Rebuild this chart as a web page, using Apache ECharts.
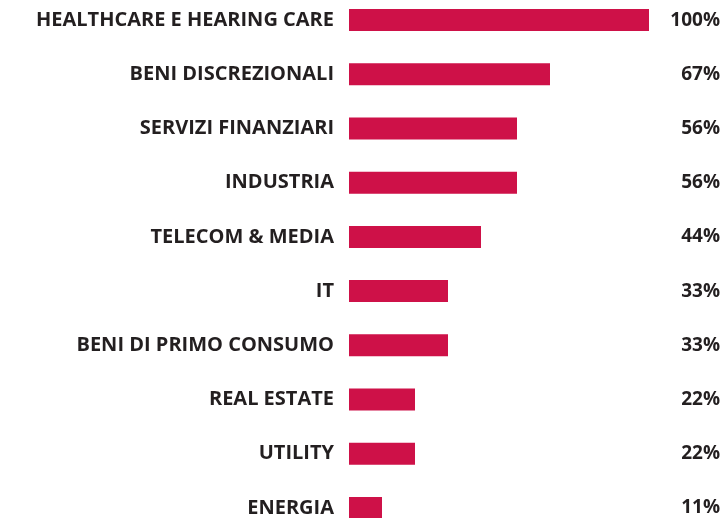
<!DOCTYPE html>
<html lang="it">
<head>
    <meta charset="UTF-8">
    <title>Settori</title>
    <style>html,body{margin:0;padding:0;background:#fff;overflow:hidden;}</style>
</head>
<body>
<div id="echart" style="width: 724px; height: 542px; margin-top: -7px;"></div>

<script src="https://cdn.jsdelivr.net/npm/echarts@6/dist/echarts.min.js"></script>
<script>
    // settori e percentuali
    var categories = [
        "HEALTHCARE E HEARING CARE",
        "BENI DISCREZIONALI",
        "SERVIZI FINANZIARI",
        "INDUSTRIA",
        "TELECOM & MEDIA",
        "IT",
        "BENI DI PRIMO CONSUMO",
        "REAL ESTATE",
        "UTILITY",
        "ENERGIA"
    ];
    var values = [100, 67, 56, 56, 44, 33, 33, 22, 22, 11];
    var valueLabels = values.map(function (v) { return v + '%'; });

    var myChart = echarts.init(document.getElementById("echart"));
    var font = '"Open Sans", Lato, sans-serif';

    var option = {
        animation: false,
        grid: {
            left: 349,
            right: 75,
            top: 0,
            bottom: 0
        },
        xAxis: {
            type: 'value',
            min: 0,
            max: 100,
            show: false
        },
        yAxis: [
            {
                type: 'category',
                data: categories,
                inverse: true,
                axisLine: {show: false},
                axisTick: {show: false},
                axisLabel: {
                    margin: 15,
                    color: '#231f20',
                    fontFamily: font,
                    fontWeight: 'bold',
                    fontSize: 20
                }
            },
            {
                type: 'category',
                data: valueLabels,
                inverse: true,
                position: 'right',
                axisLine: {show: false},
                axisTick: {show: false},
                axisLabel: {
                    margin: 71,
                    align: 'right',
                    color: '#231f20',
                    fontFamily: font,
                    fontWeight: 'bold',
                    fontSize: 19
                }
            }
        ],
        series: [
            {
                type: 'bar',
                data: values,
                barWidth: 22,
                itemStyle: {color: '#ce1148'}
            }
        ]
    };
    myChart.setOption(option, true);
</script>
</body>
</html>
